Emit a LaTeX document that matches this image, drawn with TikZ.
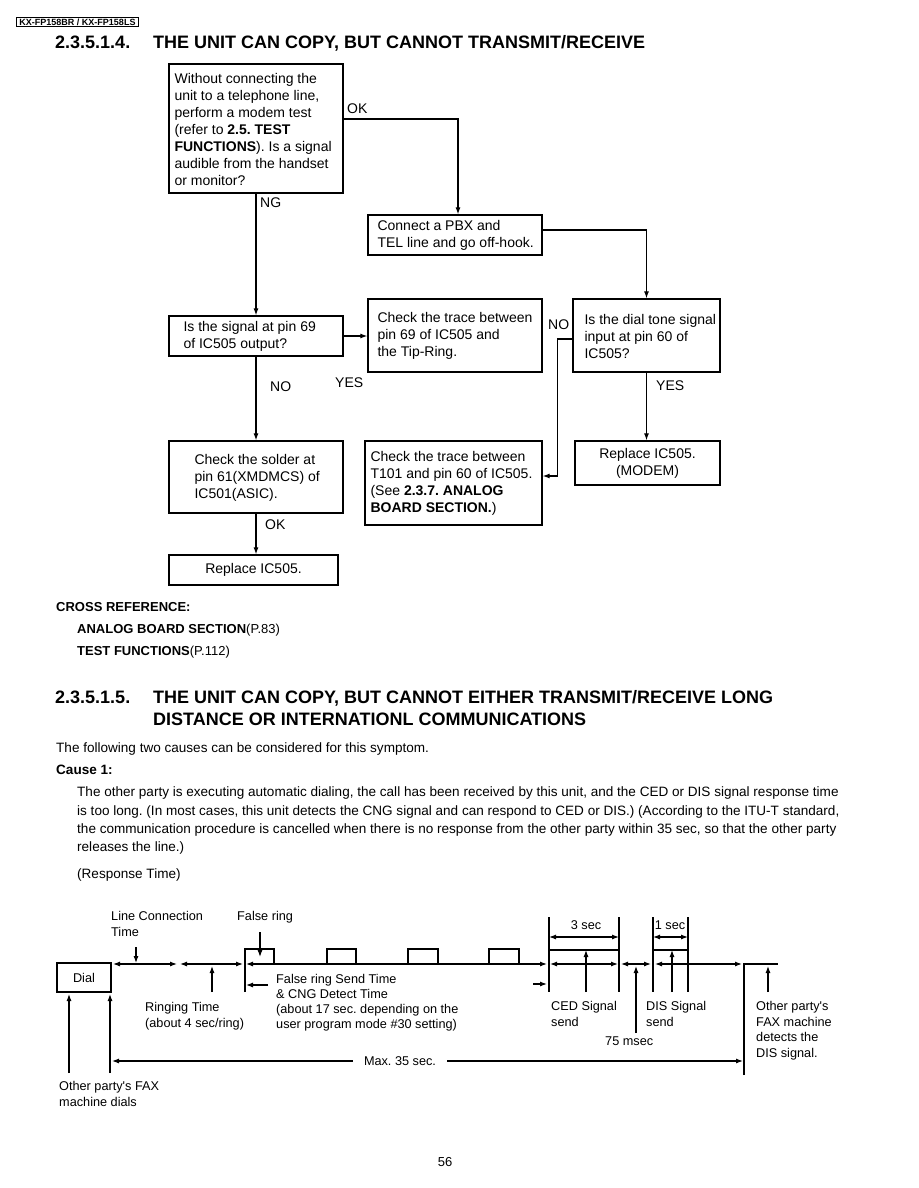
\documentclass[tikz,border=0pt]{standalone}
\usepackage{fontspec}
\setmainfont{Liberation Sans}
\usetikzlibrary{arrows.meta}
\newcommand\ffc{\fontsize{14}{17}\selectfont}
\newcommand\ftd{\fontsize{12.7}{15.7}\selectfont}
\newcommand\ftdb{\fontsize{12.7}{14.7}\selectfont}
\newcommand\fpar{\fontsize{13.55}{18.3}\selectfont}
\newcommand\fttl{\fontsize{18}{22}\selectfont\bfseries}
\newcommand\fxref{\fontsize{13}{16}\selectfont}
\newcommand\apo{\textquotesingle}
\begin{document}
\frenchspacing
\begin{tikzpicture}[x=1pt,y=-1pt,
  fcbox/.style={draw, line width=1.3pt, inner sep=0pt},
  fctxt/.style={inner sep=0pt, align=left, font=\ffc},
  fclab/.style={inner sep=0pt, anchor=mid west, font=\ffc},
  arr/.style={line width=1.1pt, -{Latex[length=7pt,width=5pt]}},
  darr/.style={line width=1.1pt, {Latex[length=7pt,width=5pt]}-{Latex[length=7pt,width=5pt]}},
  tl/.style={line width=1.2pt},
  ptxt/.style={inner sep=0pt, anchor=mid west, font=\fpar},
  ttl/.style={inner sep=0pt, anchor=mid west, font=\fttl},
  tdl/.style={inner sep=0pt, anchor=north west, align=left, font=\ftd}]
\useasboundingbox (0,0) rectangle (918,1188);
\fill[white] (0,0) rectangle (918,1188);

% header
\node[draw, line width=0.9pt, inner xsep=3pt, inner ysep=1.5pt, font=\fontsize{9}{10}\selectfont\bfseries] (hdr) at (77.5,22) {KX-FP158BR / KX-FP158LS};

% title 1
\node[ttl] (t1n) at (55,46) {2.3.5.1.4.};
\node[ttl] (t1t) at (153,46) {THE UNIT CAN COPY, BUT CANNOT TRANSMIT/RECEIVE};

% flowchart boxes
\node[fcbox, minimum width=174, minimum height=129] (a) at (256,128.5) {};
\node[fctxt, anchor=west] (at) at ([shift={(6,0.5)}]a.west) {Without connecting the\\unit to a telephone line,\\perform a modem test\\(refer to \textbf{2.5. TEST}\\\textbf{FUNCTIONS}). Is a signal\\audible from the handset\\or monitor?};

\node[fcbox, minimum width=174, minimum height=40] (b) at (455,235) {};
\node[fctxt, anchor=west] (bt) at ([shift={(10,0.5)}]b.west) {Connect a PBX and\\TEL line and go off-hook.};

\node[fcbox, minimum width=174, minimum height=40] (c) at (256,336) {};
\node[fctxt, anchor=west] (ct) at ([shift={(15,0.5)}]c.west) {Is the signal at pin 69\\of IC505 output?};

\node[fcbox, minimum width=174, minimum height=73] (d) at (455,335.5) {};
\node[fctxt, anchor=west] (dt) at ([shift={(10,0.5)}]d.west) {Check the trace between\\pin 69 of IC505 and\\the Tip-Ring.};

\node[fcbox, minimum width=147, minimum height=73] (e) at (646.5,335.5) {};
\node[fctxt, anchor=west] (et) at ([shift={(12,0.5)}]e.west) {Is the dial tone signal\\input at pin 60 of\\IC505?};

\node[fcbox, minimum width=174, minimum height=72] (f) at (256,477) {};
\node[fctxt, anchor=west] (ft) at ([shift={(26,0.5)}]f.west) {Check the solder at\\pin 61(XMDMCS) of\\IC501(ASIC).};

\node[fcbox, minimum width=177, minimum height=84] (g) at (453.5,483) {};
\node[fctxt, anchor=west] (gt) at ([shift={(6,0.5)}]g.west) {Check the trace between\\T101 and pin 60 of IC505.\\(See \textbf{2.3.7. ANALOG}\\\textbf{BOARD SECTION.})};

\node[fcbox, minimum width=145, minimum height=44, align=center, font=\ffc] (h) at (647.5,463) {Replace IC505.\\(MODEM)};

\node[fcbox, minimum width=169, minimum height=30, font=\ffc] (i) at (253.5,570) {Replace IC505.};

% connectors
\coordinate (bin) at ([xshift=3pt]b.north);
\draw[arr] ([yshift=9.5pt]a.east) -| (bin);
\draw[arr] (a.south) -- (a.south |- c.north);
\draw[arr] ([yshift=5pt]b.east) -| (e.north);
\draw[arr] (c.east) -- (c.east -| d.west);
\coordinate (gin) at ([yshift=7pt]g.east);
\draw[arr] ([yshift=-3.5pt]e.west) -- ++(-15,0) |- (gin);
\draw[arr] (e.south) -- (e.south |- h.north);
\draw[arr] (c.south) -- (c.south |- f.north);
\draw[arr] (f.south) -- (f.south |- i.north);

% connector labels
\node[fclab] (lok1) at (347,111) {OK};
\node[fclab] (lng) at (260,204.5) {NG};
\node[fclab] (lno1) at (548,327) {NO};
\node[fclab] (lyes1) at (656,387.5) {YES};
\node[fclab] (lno2) at (270,389) {NO};
\node[fclab] (lyes2) at (335,385) {YES};
\node[fclab] (lok2) at (265,527) {OK};

% cross reference
\node[inner sep=0pt, anchor=mid west, font=\fxref\bfseries] (xr0) at (56,608.5) {CROSS REFERENCE:};
\node[inner sep=0pt, anchor=mid west, font=\fxref] (xr1) at (77,630.5) {\textbf{ANALOG BOARD SECTION}(P.83)};
\node[inner sep=0pt, anchor=mid west, font=\fxref] (xr2) at (77,652.5) {\textbf{TEST FUNCTIONS}(P.112)};

% title 2
\node[ttl] (t2n) at (55,701) {2.3.5.1.5.};
\node[ttl] (t2a) at (153,701) {THE UNIT CAN COPY, BUT CANNOT EITHER TRANSMIT/RECEIVE LONG};
\node[ttl] (t2b) at (153,723) {DISTANCE OR INTERNATIONL COMMUNICATIONS};

% paragraph
\node[ptxt] (p0) at (56,749.5) {The following two causes can be considered for this symptom.};
\node[ptxt, font=\fpar\bfseries] (p1) at (56,771.5) {Cause 1:};
\node[ptxt] (p2) at (77,793.5) {The other party is executing automatic dialing, the call has been received by this unit, and the CED or DIS signal response time};
\node[ptxt] (p3) at (77,812.5) {is too long. (In most cases, this unit detects the CNG signal and can respond to CED or DIS.) (According to the ITU-T standard,};
\node[ptxt] (p4) at (77,830.5) {the communication procedure is cancelled when there is no response from the other party within 35 sec, so that the other party};
\node[ptxt] (p5) at (77,848.5) {releases the line.)};
\node[ptxt] (p6) at (77,876) {(Response Time)};

% timing diagram
\node[draw, line width=1.2pt, minimum width=54, minimum height=29, inner sep=0pt, font=\ftd] (dial) at (84,977.5) {Dial};
\draw[darr] (113,964) -- (177,964);
\draw[darr] (180,964) -- (243,964);
\draw[tl] (245,992) -- (245,949) -- (274,949) -- (274,964);
\draw[tl] (327,964) |- (356,949) -- (356,964);
\draw[tl] (408,964) |- (438,949) -- (438,964);
\draw[tl] (489,964) |- (519,949) -- (519,964);
\draw[darr] (246,964) -- (547,964);
\draw[arr] (268,985) -- (246,985);
\draw[arr] (533,984) -- (547,984);
% CED
\draw[tl] (549,917) -- (549,992);
\draw[tl] (619,917) -- (619,992);
\draw[darr] (549,937) -- (619,937);
\draw[tl] (549,950) -- (619,950);
\draw[arr] (586,992) -- (586,950);
\draw[darr] (550,964) -- (618,964);
\draw[darr] (621,964) -- (651,964);
\draw[arr] (636,1033) -- (636,966);
% DIS
\draw[tl] (653,917) -- (653,992);
\draw[tl] (688,917) -- (688,992);
\draw[darr] (653,937) -- (688,937);
\draw[tl] (653,950) -- (688,950);
\draw[arr] (672,992) -- (672,950);
\draw[darr] (655,964) -- (742,964);
\draw[tl] (744,1075) -- (744,964) -- (778,964);
\draw[arr] (768,992) -- (768,966);
% small arrows
\draw[arr] (136,947) -- (136,963);
\draw[arr] (260,932) -- (260,957);
\draw[arr] (212,992) -- (212,966);
\draw[arr] (69,1073) -- (69,994);
\draw[arr] (110,1073) -- (110,994);
% max 35
\node[inner ysep=0pt, inner xsep=11pt, font=\ftd] (max) at (400,1061) {Max. 35 sec.};
\draw[arr] (max.west |- 0,1061) -- (112,1061);
\draw[arr] (max.east |- 0,1061) -- (743,1061);
% labels
\node[tdl] (lct) at (111,911) {Line Connection\\Time};
\node[tdl] (lfr) at (237,911) {False ring};
\node[inner sep=0pt, font=\ftd] (l3s) at (586,925) {3 sec};
\node[inner sep=0pt, font=\ftd] (l1s) at (670,925) {1 sec};
\node[tdl, font=\ftdb] (lfs) at (276,974.5) {False ring Send Time\\\& CNG Detect Time\\(about 17 sec. depending on the\\user program mode \#30 setting)};
\node[tdl] (lrt) at (145,1002.5) {Ringing Time\\(about 4 sec/ring)};
\node[tdl] (lced) at (551,1001) {CED Signal\\send};
\node[tdl] (ldis) at (646,1001) {DIS Signal\\send};
\node[inner sep=0pt, anchor=mid west, font=\ftd] (l75) at (605,1043) {75 msec};
\node[tdl] (lop) at (756,1001) {Other party\apo s\\FAX machine\\detects the\\DIS signal.};
\node[tdl] (lod) at (59,1081) {Other party\apo s FAX\\machine dials};

% page number
\node[inner sep=0pt, font=\fontsize{13}{15}\selectfont] (pg) at (445,1162) {56};
\end{tikzpicture}
\end{document}
